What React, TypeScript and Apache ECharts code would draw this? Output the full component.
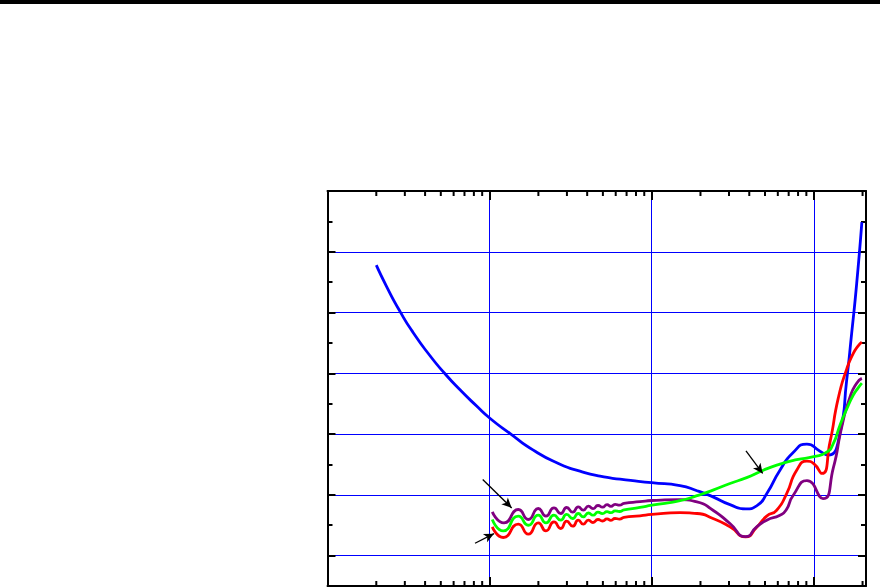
import React, { useEffect, useRef } from "react";
import * as echarts from "echarts";

// Axis ranges (x: logarithmic, y: linear)
const xMin = 1;
const xMax = 2100;
const yMin = -0.5;
const yMax = 6;
const xMinorTicks = [2, 3, 4, 5, 6, 7, 8, 9, 20, 30, 40, 50, 60, 70, 80, 90, 200, 300, 400, 500, 600, 700, 800, 900, 2000];

// Series values [x, y]
const bluePoints = [
  [2.0, 4.78], [2.32, 4.424], [2.8, 4.019], [3.38, 3.668], [4.29, 3.289], [5.31, 2.993], [6.57, 2.728],
  [8.32, 2.461], [10.0, 2.265], [13.4, 2.007], [18.61, 1.735], [27.2, 1.505], [36.1, 1.39], [48.0, 1.307],
  [63.8, 1.258], [100, 1.2], [149.5, 1.151], [190.3, 1.068], [238.9, 0.966], [304.2, 0.838],
  [381.8, 0.769], [446.3, 0.822], [514.5, 1.027], [618.6, 1.406], [744, 1.694], [907, 1.834],
  [1092, 1.719], [1223, 1.653], [1451, 2.015], [1596, 2.888], [1713, 3.657], [1840, 4.48], [1980, 5.489],
];

const redPoints = [
  [10.39, 0.473], [12.15, 0.298], [15.03, 0.517], [17.33, 0.352], [19.97, 0.538], [22.28, 0.407],
  [24.96, 0.555], [27.46, 0.446], [29.9, 0.566], [32.56, 0.484], [35.26, 0.583], [37.84, 0.517],
  [40.75, 0.583], [43.45, 0.545], [46.64, 0.594], [49.72, 0.57], [53.02, 0.603], [56.1, 0.58],
  [59.4, 0.611], [63.3, 0.601], [67.5, 0.629], [84.7, 0.654], [100.4, 0.677], [149.5, 0.706],
  [190.3, 0.693], [238.9, 0.611], [304.2, 0.473], [380.1, 0.308], [444.4, 0.468], [512.3, 0.649],
  [590.2, 0.747], [680.4, 1.022], [784.6, 1.406], [908, 1.554], [1000, 1.513], [1124, 1.352],
  [1259, 1.867], [1416, 2.591], [1596, 3.069], [1753, 3.327], [1874, 3.447], [1980, 3.513],
];

const purplePoints = [
  [10.39, 0.719], [12.27, 0.538], [15.03, 0.759], [17.33, 0.594], [19.97, 0.775], [22.28, 0.649],
  [24.96, 0.785], [27.46, 0.693], [29.9, 0.792], [32.56, 0.715], [35.26, 0.802], [37.84, 0.747],
  [40.75, 0.813], [43.45, 0.772], [46.64, 0.825], [49.72, 0.797], [53.02, 0.838], [56.1, 0.81],
  [59.4, 0.843], [63.3, 0.83], [67.5, 0.859], [84.7, 0.887], [100.4, 0.907], [149.5, 0.92],
  [190.3, 0.884], [238.9, 0.747], [304.2, 0.528], [380.1, 0.311], [444.4, 0.473], [512.3, 0.583],
  [618.6, 0.665], [673.7, 0.747], [747.4, 0.994], [908, 1.233], [1140, 0.937], [1319, 1.439],
  [1487, 2.114], [1672, 2.608], [1840, 2.838], [1980, 2.916],
];

const greenPoints = [
  [10.39, 0.594], [12.15, 0.407], [15.03, 0.649], [17.33, 0.5], [19.97, 0.665], [22.28, 0.538],
  [24.96, 0.665], [27.46, 0.583], [29.9, 0.677], [32.56, 0.611], [35.26, 0.693], [37.84, 0.637],
  [40.75, 0.701], [43.45, 0.665], [46.64, 0.715], [49.72, 0.69], [53.02, 0.723], [56.1, 0.706],
  [59.4, 0.736], [63.3, 0.726], [67.5, 0.752], [84.7, 0.792], [100.4, 0.83], [149.5, 0.904],
  [190.3, 0.986], [238.9, 1.077], [304.2, 1.187], [385.5, 1.283], [488.1, 1.406], [618.6, 1.505],
  [784.6, 1.579], [1000, 1.628], [1201, 1.702], [1319, 1.842], [1451, 2.147], [1596, 2.41],
  [1753, 2.641], [1874, 2.756], [1980, 2.838],
];

// Annotation arrows: [from, to] in data coordinates
const arrows = [
  [[9.07, 1.253], [13.69, 0.785]],
  [[8.13, 0.204], [10.64, 0.361]],
  [[381.8, 1.724], [483.9, 1.352]],
];

export default function App() {
  const ref = useRef<HTMLDivElement>(null);

  useEffect(() => {
    if (!ref.current) return;
    const chart = echarts.init(ref.current, null, { renderer: "svg" });

    const black = "#000000";
    const gridBlue = "#0000ff";

    const xCommon = {
      type: "log",
      logBase: 10,
      min: xMin,
      max: xMax,
      axisLabel: { show: false },
      axisLine: { show: true, onZero: false, lineStyle: { color: black, width: 2 } },
      axisTick: { show: true, inside: true, length: 9, lineStyle: { color: black, width: 2 } },
    };

    const yMinorCommon = {
      type: "value",
      min: yMin,
      max: yMax,
      interval: 0.5,
      axisLabel: { show: false },
      axisLine: { show: true, onZero: false, lineStyle: { color: black, width: 2 } },
      axisTick: { show: true, inside: true, length: 5, lineStyle: { color: black, width: 2 } },
      splitLine: { show: false },
    };

    const yMajorCommon = {
      type: "value",
      inverse: true,
      min: -yMax,
      max: -yMin,
      interval: 1,
      axisLabel: { show: false },
      axisLine: { show: false, onZero: false },
      axisTick: { show: true, inside: true, length: 8, lineStyle: { color: black, width: 2 } },
    };

    const lineSeries = (name: string, color: string, pts: number[][], extra: any = {}) => ({
      name,
      type: "line",
      xAxisIndex: 0,
      yAxisIndex: 0,
      data: pts,
      showSymbol: false,
      symbol: "none",
      smooth: 0.6,
      lineStyle: { color, width: 2.8 },
      z: 3,
      ...extra,
    });

    const option: any = {
      animation: false,
      backgroundColor: "#ffffff",
      grid: { left: 327.5, right: 14, top: 191, bottom: 2, containLabel: false, outerBoundsMode: "none" },
      graphic: [
        { type: "rect", left: 0, top: 0, shape: { x: 0, y: 0, width: 880, height: 4 }, style: { fill: black } },
      ],
      xAxis: [
        {
          ...xCommon,
          position: "bottom",
          splitLine: { show: true, showMinLine: false, showMaxLine: false, lineStyle: { color: gridBlue, width: 1 } },
        },
        { ...xCommon, position: "top", splitLine: { show: false } },
      ],
      yAxis: [
        { ...yMinorCommon, position: "left" },
        {
          ...yMajorCommon,
          position: "left",
          splitLine: { show: true, showMinLine: false, showMaxLine: false, lineStyle: { color: gridBlue, width: 1 } },
        },
        { ...yMinorCommon, position: "right" },
        { ...yMajorCommon, position: "right", splitLine: { show: false } },
      ],
      series: [
        lineSeries("blue", "#0000ff", bluePoints, {
          markLine: {
            silent: true,
            symbol: ["none", "arrow"],
            symbolSize: [7, 10],
            label: { show: false },
            lineStyle: { color: black, width: 1.3, type: "solid" },
            data: arrows.map(([a, b]) => [{ coord: a }, { coord: b }]),
          },
        }),
        lineSeries("red", "#ff0000", redPoints),
        lineSeries("purple", "#800080", purplePoints),
        lineSeries("green", "#00ff00", greenPoints),
        {
          type: "custom",
          xAxisIndex: 0,
          yAxisIndex: 0,
          silent: true,
          clip: false,
          z: 10,
          data: xMinorTicks.map((v) => [v, yMin]),
          renderItem: (_params: any, api: any) => {
            const v = api.value(0);
            const top = api.coord([v, yMax]);
            const bot = api.coord([v, yMin]);
            return {
              type: "group",
              children: [
                { type: "line", shape: { x1: top[0], y1: top[1], x2: top[0], y2: top[1] + 5 }, style: { stroke: black, lineWidth: 2 } },
                { type: "line", shape: { x1: bot[0], y1: bot[1], x2: bot[0], y2: bot[1] - 5 }, style: { stroke: black, lineWidth: 2 } },
              ],
            };
          },
        },
      ],
    };

    chart.setOption(option);
    return () => chart.dispose();
  }, []);

  return (
    <div
      ref={ref}
      style={{ position: "fixed", left: 0, top: 0, width: 880, height: 588, background: "#fff" }}
    />
  );
}
